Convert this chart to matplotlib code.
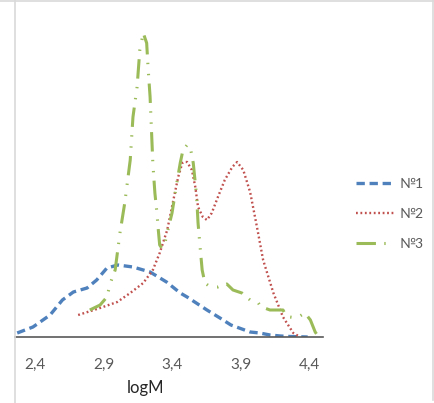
import matplotlib
matplotlib.use("Agg")
import matplotlib.pyplot as plt
from matplotlib.lines import Line2D

plt.rcParams['font.family'] = ['Lato', 'DejaVu Sans']
plt.rcParams['lines.scale_dashes'] = False

# Molecular weight distributions, logM vs. relative fraction
x1 = [2.27, 2.385, 2.51, 2.60, 2.68, 2.78, 2.85, 2.925, 3.005, 3.115, 3.24, 3.36,
      3.46, 3.51, 3.655, 3.75, 3.83, 3.97, 4.04, 4.115, 4.19, 4.26, 4.39]
y1 = [0.04, 0.10, 0.22, 0.37, 0.45, 0.49, 0.57, 0.69, 0.72, 0.70, 0.65, 0.55,
      0.44, 0.40, 0.27, 0.19, 0.12, 0.05, 0.04, 0.02, 0.01, 0.005, 0.0]

x2 = [2.715, 2.875, 3.0, 3.095, 3.19, 3.26, 3.31, 3.365, 3.41, 3.445, 3.475, 3.495,
      3.51, 3.545, 3.57, 3.59, 3.625, 3.655, 3.69, 3.735, 3.785, 3.84, 3.875, 3.92,
      3.97, 4.02, 4.065, 4.14, 4.21, 4.285, 4.335]
y2 = [0.22, 0.29, 0.35, 0.44, 0.54, 0.67, 0.84, 1.07, 1.37, 1.60, 1.74, 1.75,
      1.75, 1.67, 1.50, 1.30, 1.20, 1.17, 1.24, 1.40, 1.57, 1.70, 1.75, 1.67,
      1.45, 1.10, 0.77, 0.44, 0.20, 0.04, 0.0]

x3 = [2.80, 2.875, 2.925, 2.95, 2.985, 3.02, 3.055, 3.095, 3.115, 3.145, 3.165, 3.19,
      3.215, 3.225, 3.24, 3.26, 3.275, 3.29, 3.30, 3.31, 3.325, 3.35, 3.37, 3.40,
      3.435, 3.46, 3.48, 3.51, 3.53, 3.555, 3.58, 3.59, 3.605, 3.62, 3.64, 3.68,
      3.735, 3.77, 3.80, 3.845, 3.91, 3.97, 4.02, 4.04, 4.055, 4.115, 4.21, 4.23,
      4.26, 4.31, 4.37, 4.41, 4.445, 4.46]
y3 = [0.27, 0.32, 0.40, 0.54, 0.67, 1.04, 1.34, 1.77, 2.20, 2.50, 2.87, 3.04,
      2.94, 2.70, 2.40, 1.74, 1.44, 1.24, 1.07, 0.92, 0.89, 0.95, 1.07, 1.24,
      1.54, 1.74, 1.87, 1.92, 1.92, 1.74, 1.40, 1.14, 0.90, 0.67, 0.54, 0.50,
      0.50, 0.52, 0.53, 0.47, 0.44, 0.37, 0.36, 0.32, 0.30, 0.27, 0.27, 0.22,
      0.20, 0.19, 0.24, 0.17, 0.05, 0.02]

labels = ["№1", "№2", "№3"]
xticks = [2.4, 2.9, 3.4, 3.9, 4.4]
xtick_labels = ["2,4", "2,9", "3,4", "3,9", "4,4"]

W, H = 434, 403
fig = plt.figure(figsize=(W / 100, H / 100), dpi=100)
ax = fig.add_axes([15 / W, 1 - 337 / H, (323 - 15) / W, (337 - 1) / H])

blue, red, green = "#4F81BD", "#C0504D", "#9BBB59"
ax.plot(x1, y1, color=blue, lw=2.4, linestyle=(0, (6.0, 3.4)), label=labels[0],
        dash_capstyle='butt')
ax.plot(x2, y2, color=red, lw=1.7, linestyle=(0, (1.3, 1.9)), label=labels[1])
ax.plot(x3, y3, color=green, lw=2.2,
        linestyle=(0, (14, 6, 1, 7, 1, 6)), label=labels[2])

ax.set_xlim(2.254, 4.502)
ax.set_ylim(0, 3.36)
ax.set_xticks(xticks)
ax.set_xticklabels(xtick_labels)
ax.set_yticks([])
ax.tick_params(axis='x', length=0, pad=15, labelsize=11, labelcolor="#595959")
for s in ("top", "right", "left"):
    ax.spines[s].set_visible(False)
ax.spines["bottom"].set_color("#595959")
ax.spines["bottom"].set_linewidth(1.2)
ax.patch.set_alpha(0)

fig.text(145 / W, 1 - 388 / H, "logM", ha="center", va="center",
         fontsize=12, color="#262626")

leg = fig.legend(loc="center left", bbox_to_anchor=(343 / W, 1 - 214 / H),
                 frameon=False, fontsize=10, handlelength=2.8,
                 handletextpad=0.35, labelspacing=1.3, labelcolor="#595959")

# light border lines of the chart area
border = "#d9d9d9"
fig.add_artist(Line2D([15 / W, 15 / W], [0, 1], color=border, lw=1.2))
fig.add_artist(Line2D([0, 433 / W], [1 - 1 / H, 1 - 1 / H], color=border, lw=1.2))
fig.add_artist(Line2D([433 / W, 433 / W], [1 - 400 / H, 1], color=border, lw=1.2))

fig.savefig("out.png", dpi=100)
